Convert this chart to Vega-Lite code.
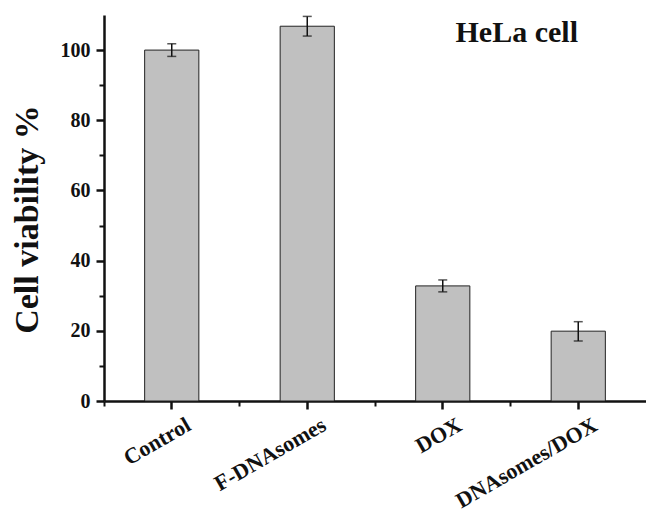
{
  "$schema": "https://vega.github.io/schema/vega-lite/v6.json",
  "width": 542,
  "height": 386,
  "autosize": "none",
  "padding": {"left": 104, "top": 15, "right": 0, "bottom": 114},
  "background": "white",
  "config": {
    "font": "Liberation Serif",
    "view": {"stroke": null},
    "axis": {"grid": false, "domainColor": "#111", "tickColor": "#111", "labelColor": "#111", "titleColor": "#111", "labelFont": "Liberation Serif", "titleFont": "Liberation Serif", "labelFontWeight": "bold", "titleFontWeight": "bold"}
  },
  "title": {
    "text": "HeLa cell",
    "font": "Liberation Serif",
    "fontSize": 30,
    "fontWeight": "bold",
    "color": "#111",
    "anchor": "end",
    "frame": "group",
    "baseline": "alphabetic",
    "offset": -57,
    "dx": -68
  },
  "data": {
    "values": [
      {"group": "Control", "value": 100, "lo": 98.2, "hi": 101.8},
      {"group": "F-DNAsomes", "value": 106.8, "lo": 104.0, "hi": 109.6},
      {"group": "DOX", "value": 32.8, "lo": 31.1, "hi": 34.5},
      {"group": "DNAsomes/DOX", "value": 19.9, "lo": 17.1, "hi": 22.6}
    ]
  },
  "resolve": {"axis": {"x": "independent", "y": "independent"}},
  "layer": [
    {
      "mark": {"type": "bar", "width": {"band": 0.4}, "fill": "#c0c0c0", "stroke": "#222", "strokeWidth": 1},
      "encoding": {
        "x": {
          "field": "group", "type": "nominal", "sort": null,
          "scale": {"paddingInner": 0, "paddingOuter": 0},
          "axis": {
            "orient": "bottom", "title": null, "labelAngle": -30, "labelAlign": "right", "labelBaseline": "top",
            "labelFontSize": 22, "labelPadding": 5, "labelOffset": 12,
            "tickSize": 8, "tickWidth": 2.5, "domainWidth": 2.5
          }
        },
        "y": {
          "field": "value", "type": "quantitative",
          "scale": {"domain": [0, 110], "nice": false},
          "axis": {
            "orient": "left", "title": "Cell viability %", "titleFontSize": 34, "titleAngle": -90,
            "titleX": -67, "titleY": 204, "titleBaseline": "alphabetic", "titleAlign": "center",
            "values": [0, 20, 40, 60, 80, 100], "labelFontSize": 20, "labelPadding": 6,
            "tickSize": 8, "tickWidth": 2.5, "domainWidth": 2.5
          }
        }
      }
    },
    {
      "mark": {"type": "errorbar", "ticks": {"size": 9, "thickness": 1.5, "color": "#111"}, "rule": {"strokeWidth": 1.5, "color": "#111"}},
      "encoding": {
        "x": {
          "field": "group", "type": "nominal", "sort": null,
          "axis": {"orient": "bottom", "title": null, "labels": false, "domain": false, "bandPosition": 0, "tickSize": 5, "tickWidth": 2}
        },
        "y": {
          "field": "lo", "type": "quantitative",
          "axis": {"orient": "left", "title": null, "labels": false, "domain": false, "values": [10, 30, 50, 70, 90], "tickSize": 5, "tickWidth": 2}
        },
        "y2": {"field": "hi"}
      }
    }
  ]
}
